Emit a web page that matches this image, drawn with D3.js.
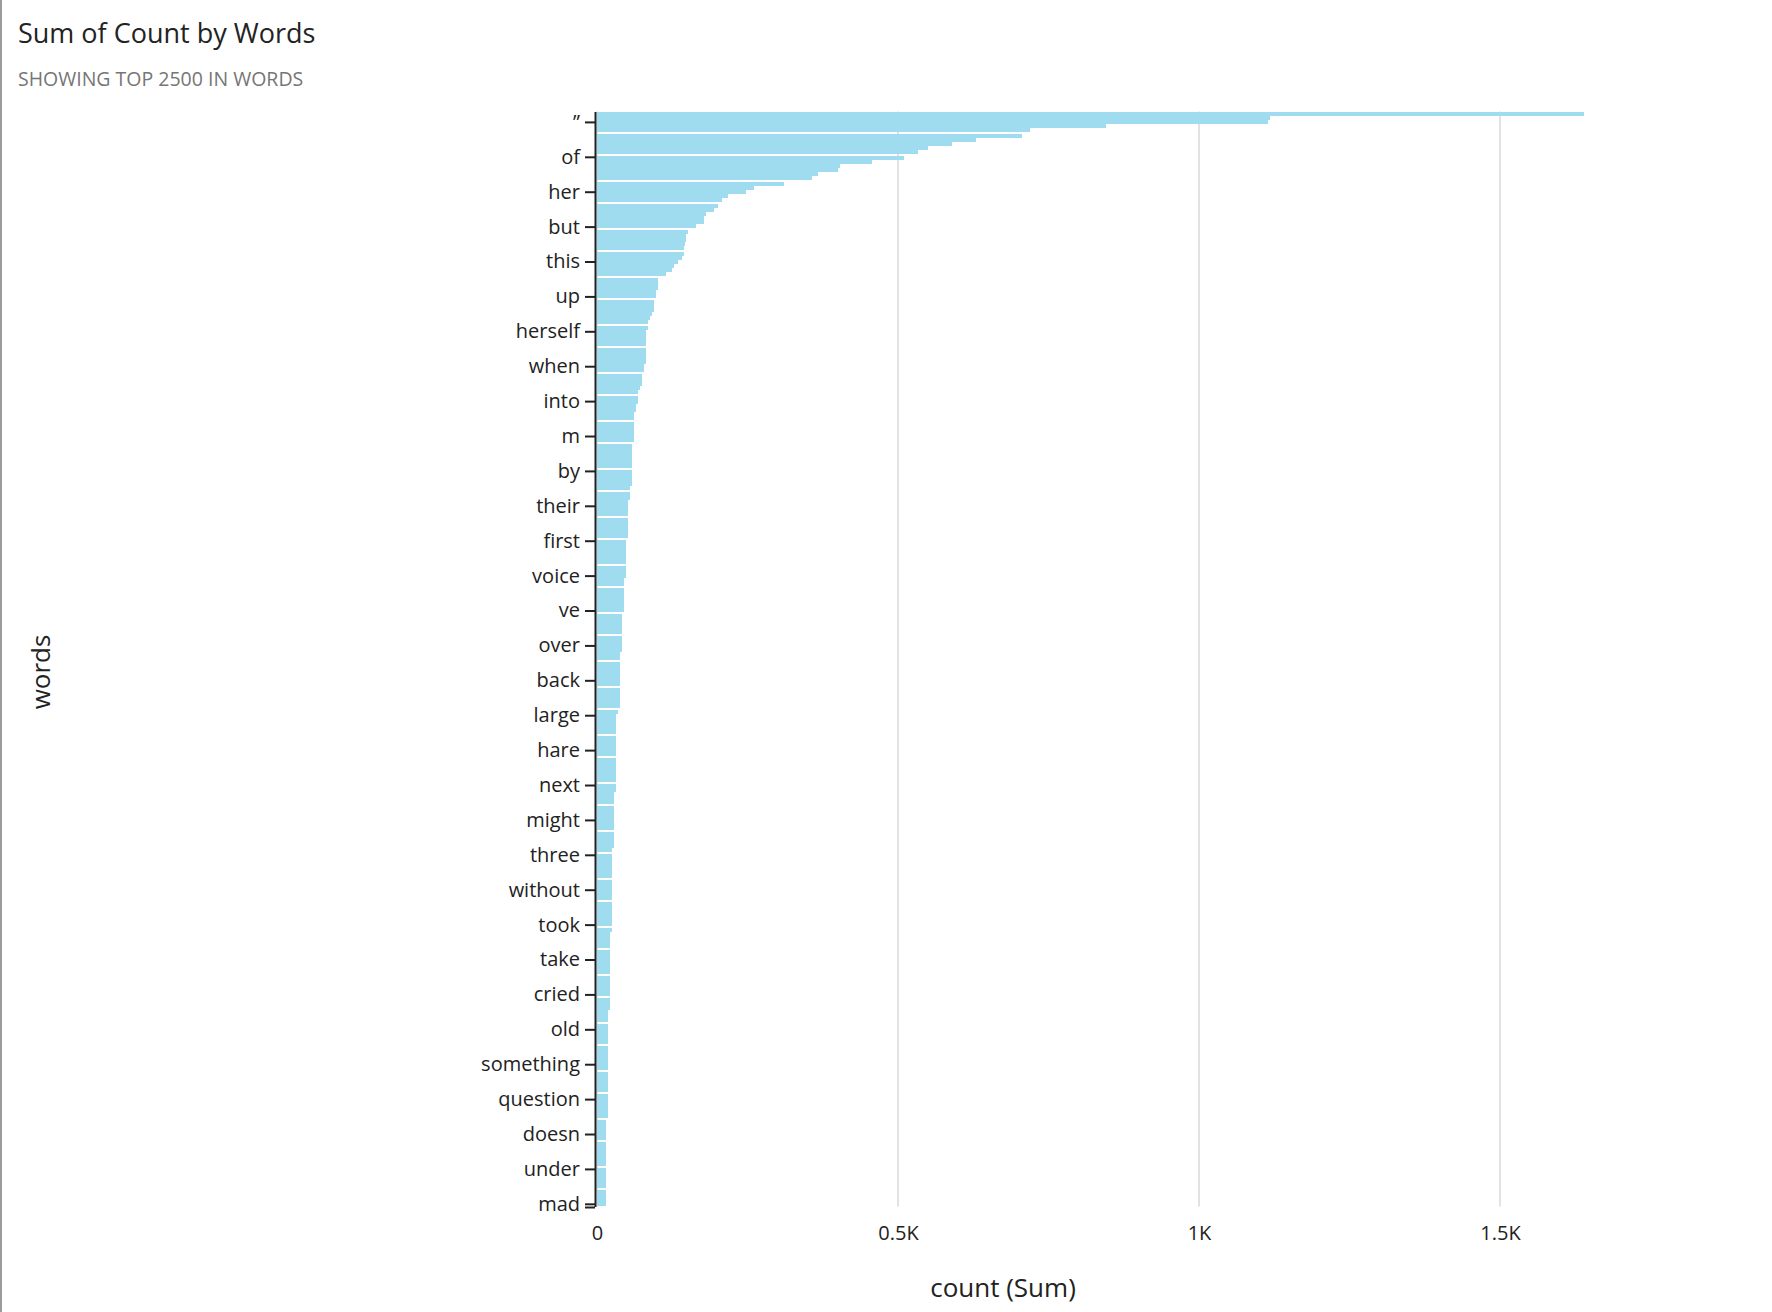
<!DOCTYPE html>
<html>
<head>
<meta charset="utf-8">
<script src="https://cdn.jsdelivr.net/npm/d3@7"></script>
<style>
	body{margin:0;background:#fff;}
	svg{display:block;font-family:"Open Sans",sans-serif;}
</style>
</head>
<body>
<div id="chart"></div>
<script>
var titleText = "Sum of Count by Words"
var subtitleText = "SHOWING TOP 2500 IN WORDS"
var xTitle = "count (Sum)"
var yTitle = "words"

var words = [
	"the","“","”","and","to","a","it","she","i","you",
	"of","said","alice","in","was","that","as","at","her","t",
	"s","on","all","with","had","for","but","be","they","so",
	"very","not","what","little","this","he","out","is","one","down",
	"there","if","up","his","about","then","no","them","know","like",
	"herself","were","would","went","again","do","have","could","when","or",
	"thought","off","time","me","queen","how","into","see","did","king",
	"its","don","now","well","m","my","began","turtle","way","hatter",
	"mock","quite","by","your","who","which","gryphon","think","say","go",
	"their","just","an","rabbit","ll","much","head","more","first","thing",
	"here","must","come","looked","get","round","voice","never","got","mouse",
	"other","duchess","oh","tone","ve","dormouse","only","after","any","can",
	"great","some","over","looking","march","once","eyes","will","cat","day",
	"back","made","soon","two","moment","why","same","long","large","right",
	"should","minute","caterpillar","last","tell","talking","hare","put","let","course",
	"ever","won","heard","from","next","still","white","mean","nothing","make",
	"sure","even","might","poor","rather","house","door","find","anything","table",
	"three","these","bill","dear","court","felt","look","ran","without","another",
	"jury","hand","saying","till","says","than","took","sort","every","half",
	"hastily","garden","away","people","take","tried","being","because","replied","seemed",
	"feet","turned","cried","whole","while","added","near","words","soldiers","yet",
	"old","came","tea","seen","world","such","going","those","something","end",
	"side","cook","trying","knew","hurry","shall","question","silence","where","used",
	"ready","sat","slate","remark","doesn","dinah","cats","baby","moral","getting",
	"beautiful","sea","under","mind","hands","twinkle","dance","game","wish","shouted",
	"mad"
]

var counts = [
	1640,1118,1115,846,719,706,630,590,550,533,
	510,457,404,400,367,357,311,261,248,218,
	208,201,194,181,178,177,165,151,148,148,
	147,145,144,141,135,128,125,115,102,101,
	101,98,98,95,95,94,91,88,85,85,
	82,82,81,81,81,81,81,81,78,78,
	75,75,74,71,68,68,68,65,65,62,
	61,61,61,61,61,61,58,58,58,58,
	58,58,58,58,58,58,55,55,55,52,
	52,52,51,51,51,51,51,51,48,48,
	48,48,48,48,48,48,48,45,45,45,
	45,45,45,45,45,42,42,42,42,42,
	42,42,42,42,38,38,38,38,38,38,
	38,38,38,38,38,38,38,35,32,32,
	32,32,32,32,32,32,32,32,32,32,
	32,32,32,32,32,32,28,28,28,28,
	28,28,28,28,28,28,28,28,28,25,
	25,25,25,25,25,25,25,25,25,25,
	25,25,25,25,25,25,25,25,22,22,
	22,22,22,22,22,22,22,22,22,22,
	22,22,22,22,22,22,18,18,18,18,
	18,18,18,18,18,18,18,18,18,18,
	18,18,18,18,18,18,18,18,18,18,
	18,15,15,15,15,15,15,15,15,15,
	15,15,15,15,15,15,15,15,15,15,
	15
]

var countTicks = [0,500,1000,1500]
var labelEvery = 8
var labelOffset = 2

let fullWidth = 1772
let fullHeight = 1312
let plot = {left:597, right:1500, top:111.5, bottom:1206.5}
let barColour = "#9fdcf0"
let ink = "#222"

let data = words.map((w,i)=>({word:w, count:counts[i]}))

let svg = d3.select("#chart")
	.append("svg")
	.attr("width",fullWidth)
	.attr("height",fullHeight)

svg.append("rect")
	.attr("width",fullWidth)
	.attr("height",fullHeight)
	.attr("fill","#fff")

svg.append("rect")
	.attr("width",2)
	.attr("height",fullHeight)
	.attr("fill","#9b9b9b")

svg.append("text")
	.attr("x",18)
	.attr("y",43)
	.attr("font-size",27)
	.attr("fill","#232323")
	.text(titleText)

svg.append("text")
	.attr("x",18)
	.attr("y",86)
	.attr("font-size",19.5)
	.attr("fill","#767676")
	.text(subtitleText)

let xScale = d3.scaleLinear()
	.domain([countTicks[0],countTicks[countTicks.length-1]])
	.range([plot.left,plot.right])

let yScale = d3.scaleBand()
	.domain(words)
	.range([plot.top,plot.bottom])
	.padding(0)

// grid
svg.append("g")
	.selectAll("line")
	.data(countTicks)
	.join("line")
	.attr("x1",d=>xScale(d))
	.attr("x2",d=>xScale(d))
	.attr("y1",plot.top)
	.attr("y2",plot.bottom)
	.attr("stroke","#e2e2e2")
	.attr("stroke-width",2)

// bars snap to a 2px grid, which leaves the thin white seams of the original
let barHeight = 2*Math.floor(yScale.bandwidth()/2)
svg.append("g")
	.attr("shape-rendering","crispEdges")
	.selectAll("rect")
	.data(data)
	.join("rect")
	.attr("x",xScale(0))
	.attr("y",d=>2*Math.round(yScale(d.word)/2))
	.attr("width",d=>xScale(d.count)-xScale(0))
	.attr("height",barHeight)
	.attr("fill",barColour)

let yAxis = d3.axisLeft(yScale)
	.tickValues(words.filter((w,i)=>i%labelEvery==labelOffset))
	.tickSize(10)
	.tickPadding(5)
	.tickSizeOuter(0)

let yAxisG = svg.append("g")
	.attr("transform",`translate(${xScale(0)-2},0)`)
	.call(yAxis)
yAxisG.selectAll("path,line").attr("stroke",ink).attr("stroke-width",2)
yAxisG.selectAll("text").attr("font-size",20).attr("fill",ink)
yAxisG.attr("font-family",null)
yAxisG.append("line")
	.attr("x1",-10)
	.attr("x2",0)
	.attr("y1",yScale.range()[1]+1)
	.attr("y2",yScale.range()[1]+1)
	.attr("stroke",ink)
	.attr("stroke-width",2)

let xAxis = d3.axisBottom(xScale)
	.tickValues(countTicks)
	.tickFormat(d=>d==0?"0":(d/1000)+"K")
	.tickSize(0)
	.tickPadding(19)

let xAxisG = svg.append("g")
	.attr("transform",`translate(0,${plot.bottom})`)
	.call(xAxis)
xAxisG.select(".domain").remove()
xAxisG.attr("font-family",null)
xAxisG.selectAll("text").attr("font-size",20).attr("fill",ink)

svg.append("text")
	.attr("x",1003)
	.attr("y",1297)
	.attr("text-anchor","middle")
	.attr("font-size",26)
	.attr("fill",ink)
	.text(xTitle)

svg.append("text")
	.attr("transform","translate(50,672) rotate(-90)")
	.attr("text-anchor","middle")
	.attr("font-size",26)
	.attr("fill",ink)
	.text(yTitle)
</script>
</body>
</html>
